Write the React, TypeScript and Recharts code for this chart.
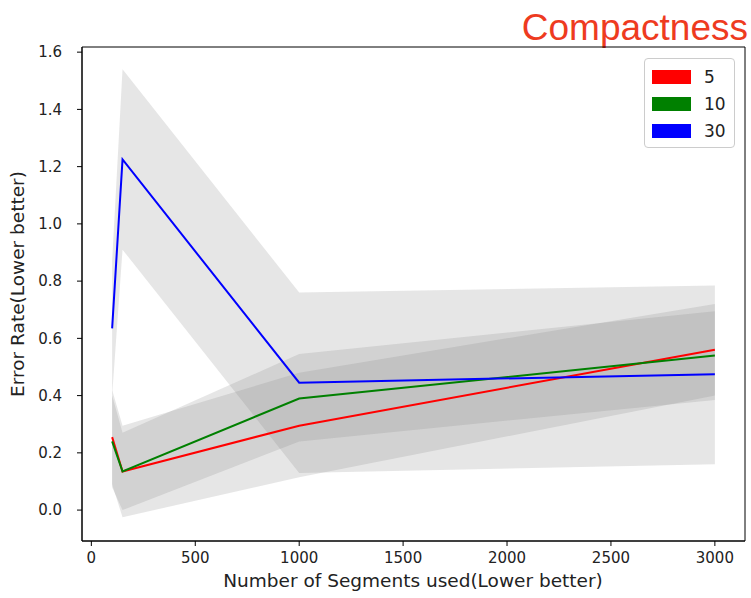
import { ComposedChart, Area, Line, XAxis, YAxis, ReferenceArea } from "recharts";

// segment counts on the x axis
const segments = [100, 150, 1000, 3000];

// mean error rate per compactness value
const mean5 = [0.255, 0.135, 0.295, 0.56];
const mean10 = [0.24, 0.135, 0.39, 0.54];
const mean30 = [0.635, 1.225, 0.445, 0.475];

// shaded spread (low / high) per compactness value
const lo5 = [0.09, -0.025, 0.115, 0.4];
const hi5 = [0.42, 0.295, 0.48, 0.72];
const lo10 = [0.08, 0.0, 0.24, 0.385];
const hi10 = [0.4, 0.27, 0.545, 0.695];
const lo30 = [0.4, 0.91, 0.13, 0.16];
const hi30 = [0.87, 1.54, 0.76, 0.785];

const xTicks = [0, 500, 1000, 1500, 2000, 2500, 3000];
const yTicks = [0, 0.2, 0.4, 0.6, 0.8, 1.0, 1.2, 1.4, 1.6];

const seriesInfo = [
  { key: "c5", name: "5", color: "#ff0000" },
  { key: "c10", name: "10", color: "#008000" },
  { key: "c30", name: "30", color: "#0000ff" },
];

const data = segments.map((s, i) => ({
  segments: s,
  c5: mean5[i],
  c10: mean10[i],
  c30: mean30[i],
  band5: [lo5[i], hi5[i]],
  band10: [lo10[i], hi10[i]],
  band30: [lo30[i], hi30[i]],
}));

const X_DOMAIN = [-45, 3145];
const Y_DOMAIN = [-0.108, 1.618];

const FONT = "'DejaVu Sans', sans-serif";
const tickStyle = { fontSize: 15, fill: "#222", fontFamily: FONT };

const LegendBox = () => (
  <div
    style={{
      position: "absolute",
      left: 644,
      top: 58,
      width: 91,
      boxSizing: "border-box",
      border: "1px solid #cccccc",
      borderRadius: 4,
      background: "rgba(255,255,255,0.8)",
      padding: "4px 8px 3px 7px",
      fontFamily: FONT,
      fontSize: 17,
      color: "#222",
    }}
  >
    {seriesInfo.map((s) => (
      <div key={s.key} style={{ display: "flex", alignItems: "center", height: 27 }}>
        <span style={{ display: "inline-block", width: 39, height: 14, background: s.color, marginRight: 13 }} />
        <span>{s.name}</span>
      </div>
    ))}
  </div>
);

export default function App() {
  return (
    <div style={{ position: "absolute", left: 0, top: 0, width: 751, height: 598, background: "#fff" }}>
      <ComposedChart width={751} height={598} data={data} margin={{ top: 47, right: 6, bottom: 0, left: 0 }}>
        <XAxis
          dataKey="segments"
          type="number"
          domain={X_DOMAIN}
          ticks={xTicks}
          height={57}
          tick={tickStyle}
          tickSize={5}
          tickMargin={6}
          stroke="#000"
          allowDataOverflow
          label={{
            content: () => (
              <text x={413} y={587} textAnchor="middle" fontSize={18.5} fontFamily={FONT} fill="#222">
                Number of Segments used(Lower better)
              </text>
            ),
          }}
        />
        <YAxis
          type="number"
          domain={Y_DOMAIN}
          ticks={yTicks}
          width={82}
          tick={tickStyle}
          tickFormatter={(v: number) => v.toFixed(1)}
          tickSize={5}
          tickMargin={15}
          stroke="#000"
          allowDataOverflow
          label={{
            content: () => (
              <text
                x={24}
                y={284}
                transform="rotate(-90 24 284)"
                textAnchor="middle"
                fontSize={18.5}
                fontFamily={FONT}
                fill="#222"
              >
                Error Rate(Lower better)
              </text>
            ),
          }}
        />

        <Area dataKey="band5" type="linear" stroke="none" fill="#808080" fillOpacity={0.2} legendType="none" isAnimationActive={false} activeDot={false} />
        <Area dataKey="band10" type="linear" stroke="none" fill="#808080" fillOpacity={0.2} legendType="none" isAnimationActive={false} activeDot={false} />
        <Area dataKey="band30" type="linear" stroke="none" fill="#808080" fillOpacity={0.2} legendType="none" isAnimationActive={false} activeDot={false} />

        {seriesInfo.map((s) => (
          <Line
            key={s.key}
            dataKey={s.key}
            name={s.name}
            type="linear"
            stroke={s.color}
            strokeWidth={2}
            dot={false}
            activeDot={false}
            isAnimationActive={false}
          />
        ))}

        {/* axes frame (matplotlib draws all four spines) */}
        <ReferenceArea
          x1={X_DOMAIN[0]}
          x2={X_DOMAIN[1]}
          y1={Y_DOMAIN[0]}
          y2={Y_DOMAIN[1]}
          fill="none"
          fillOpacity={0}
          stroke="#000"
          strokeWidth={1}
          ifOverflow="visible"
        />

        <text x={748} y={40} textAnchor="end" fontSize={37} fontFamily="'Liberation Sans', Arial, sans-serif" fill="#ee3b1f">
          Compactness
        </text>
      </ComposedChart>
      <LegendBox />
    </div>
  );
}
